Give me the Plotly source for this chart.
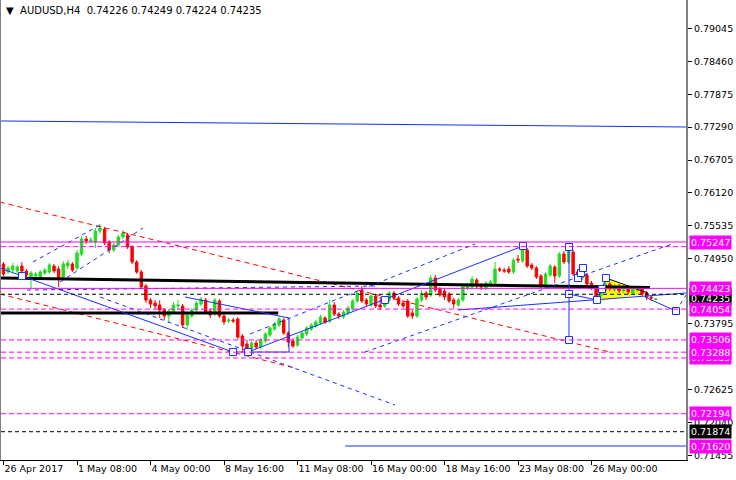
import plotly.graph_objects as go

# ---------------- data ----------------
symbol = "AUDUSD,H4"
last_ohlc = ["0.74226", "0.74249", "0.74224", "0.74235"]

bars = list(range(143))

open_pts = [74856, 74714, 74749, 74731, 74820, 74731, 74625, 74642, 74625, 74696,
            74714, 74820, 74767, 74625, 74820, 74856, 74785, 75034, 75300, 75265,
            75247, 75443, 75478, 75247, 75105, 75194, 75336, 75371, 75158, 74891,
            74714, 74465, 74216, 74162, 74127, 74038, 73931, 74002, 74109, 74109,
            73771, 73931, 74038, 74145, 74216, 74020, 73967, 74198, 73931, 73842,
            73860, 73878, 73576, 73433, 73344, 73451, 73380, 73487, 73593, 73700,
            73771, 73860, 73629, 73487, 73415, 73540, 73611, 73700, 73753, 73807,
            73896, 73842, 74127, 73967, 73913, 73985, 74056, 74198, 74393, 74216,
            74127, 74287, 74127, 74109, 74216, 74340, 74251, 74162, 74198, 73985,
            73931, 74216, 74340, 74305, 74607, 74411, 74376, 74322, 74216, 74127,
            74216, 74429, 74447, 74571, 74482, 74429, 74482, 74518, 74767, 74749,
            74767, 74714, 74945, 74909, 75105, 74838, 74785, 74642, 74465, 74660,
            74802, 74642, 75034, 74891, 75069, 74714, 74607, 74660, 74518, 74447,
            74287, 74376, 74500, 74393, 74465, 74376, 74447, 74340, 74393, 74411,
            74340, 74269, 74226]
high_pts = [74891, 74820, 74874, 74838, 74891, 74767, 74731, 74714, 74749, 74785,
            74874, 74856, 74820, 74909, 74927, 74891, 75105, 75354, 75354, 75336,
            75496, 75567, 75514, 75283, 75229, 75371, 75460, 75407, 75194, 74927,
            74749, 74500, 74251, 74216, 74216, 74073, 74056, 74180, 74216, 74145,
            73985, 74073, 74198, 74269, 74251, 74056, 74251, 74233, 73967, 73896,
            73896, 73913, 73611, 73504, 73487, 73504, 73540, 73647, 73753, 73825,
            73913, 73896, 73664, 73540, 73593, 73664, 73753, 73807, 73860, 73949,
            73931, 74216, 74180, 74002, 74038, 74109, 74233, 74393, 74465, 74251,
            74322, 74322, 74269, 74251, 74376, 74376, 74287, 74198, 74233, 74038,
            74269, 74393, 74376, 74660, 74660, 74447, 74411, 74358, 74251, 74251,
            74500, 74518, 74642, 74607, 74518, 74553, 74571, 74891, 74802, 74785,
            74820, 74962, 75016, 75158, 75140, 74874, 74820, 74678, 74714, 74856,
            74838, 75069, 75087, 75123, 75105, 74749, 74714, 74696, 74553, 74482,
            74429, 74536, 74536, 74500, 74500, 74482, 74482, 74447, 74465, 74447,
            74376, 74287, 74249]
low_pts = [74642, 74678, 74714, 74696, 74696, 74625, 74429, 74589, 74589, 74660,
           74678, 74696, 74447, 74589, 74767, 74714, 74749, 74998, 75211, 75229,
           75140, 75389, 75194, 75051, 75069, 75158, 75300, 75123, 74856, 74678,
           74411, 74162, 74073, 74056, 73896, 73860, 73807, 73967, 74038, 73718,
           73682, 73896, 74002, 74109, 73967, 73896, 73931, 73896, 73771, 73807,
           73807, 73522, 73291, 73291, 73309, 73344, 73344, 73451, 73558, 73664,
           73736, 73593, 73380, 73362, 73380, 73504, 73576, 73664, 73718, 73771,
           73789, 73807, 73931, 73878, 73878, 73949, 74020, 74162, 74162, 74091,
           74091, 74073, 74038, 74073, 74180, 74216, 74109, 74073, 73896, 73878,
           73896, 74180, 74216, 74269, 74358, 74269, 74216, 74162, 74073, 74091,
           74180, 74393, 74411, 74429, 74393, 74393, 74447, 74482, 74714, 74696,
           74678, 74678, 74874, 74874, 74785, 74749, 74589, 74429, 74429, 74625,
           74518, 74607, 74856, 74856, 74642, 74589, 74571, 74465, 74393, 74216,
           74251, 74340, 74376, 74358, 74340, 74340, 74322, 74305, 74358, 74287,
           74216, 74198, 74224]
close_pts = [74678, 74785, 74820, 74802, 74731, 74660, 74696, 74678, 74714, 74749,
             74838, 74731, 74589, 74856, 74874, 74749, 75051, 75300, 75265, 75283,
             75443, 75496, 75229, 75105, 75194, 75336, 75407, 75158, 74891, 74714,
             74447, 74216, 74145, 74109, 74038, 73931, 74020, 74127, 74127, 73771,
             73949, 74038, 74162, 74233, 74002, 73949, 74216, 73931, 73825, 73860,
             73842, 73558, 73398, 73362, 73451, 73380, 73504, 73611, 73718, 73789,
             73878, 73629, 73469, 73398, 73558, 73629, 73718, 73771, 73825, 73913,
             73825, 74127, 73967, 73931, 74002, 74073, 74198, 74340, 74198, 74145,
             74287, 74109, 74091, 74216, 74340, 74251, 74145, 74109, 73931, 73931,
             74233, 74340, 74269, 74607, 74393, 74305, 74269, 74198, 74145, 74216,
             74465, 74482, 74589, 74465, 74447, 74518, 74536, 74767, 74749, 74731,
             74714, 74927, 74927, 75123, 74820, 74785, 74625, 74482, 74678, 74820,
             74642, 75034, 74891, 75087, 74678, 74625, 74678, 74500, 74429, 74287,
             74393, 74500, 74411, 74465, 74376, 74447, 74358, 74411, 74429, 74322,
             74269, 74251, 74235]

open_ = [v / 1e5 for v in open_pts]
high_ = [v / 1e5 for v in high_pts]
low_ = [v / 1e5 for v in low_pts]
close_ = [v / 1e5 for v in close_pts]

tick_bars = [0, 16, 32, 48, 64, 80, 96, 112, 128]
tick_text = ["26 Apr 2017", "1 May 08:00", "4 May 00:00", "8 May 16:00", "11 May 08:00",
             "16 May 00:00", "18 May 16:00", "23 May 08:00", "26 May 00:00"]

price_ticks = [0.79045, 0.78460, 0.77875, 0.77290, 0.76705, 0.76120, 0.75535,
               0.74950, 0.73795, 0.72625, 0.72040, 0.71455]
price_tick_text = ["0.79045", "0.78460", "0.77875", "0.77290", "0.76705", "0.76120",
                   "0.75535", "0.74950", "0.73795", "0.72625", "0.72040", "0.71455"]

magenta_solid_levels = [0.75247, 0.74423]
magenta_dash_levels = [0.75165, 0.74054, 0.73506, 0.73288, 0.73185, 0.72194]
black_dash_levels = [0.74318, 0.71874]

# price labels on the axis (drawn in this order)
label_values = [0.75247, 0.73185, 0.73288, 0.74318, 0.74235, 0.74423, 0.74054,
                0.73506, 0.72194, 0.71874, 0.71620]
label_texts = ["0.75247", "0.73185", "0.73288", "0.74318", "0.74235", "0.74423", "0.74054",
               "0.73506", "0.72194", "0.71874", "0.71620"]
label_kinds = ["m", "m", "m", "k", "k", "m", "m", "m", "m", "k", "m"]

# analysis objects: (bar positions, prices)
blue_solid_paths = [
    ([-0.8, 148.6], [0.77399, 0.77292]),
    ([-0.8, 49.96], [0.74785, 0.73291]),
    ([39.51, 60.19, 62.15, 62.15, 49.96], [0.74269, 0.73931, 0.73896, 0.73291, 0.73291]),
    ([53.22, 113.08], [0.73291, 0.75176]),
    ([123.1, 123.1], [0.75158, 0.73504]),
    ([123.1, 129.19, 130.28, 131.15], [0.74322, 0.74216, 0.74411, 0.74607]),
    ([125.05, 125.7, 126.14], [0.74607, 0.74696, 0.74785]),
    ([98.93, 148.6], [0.74038, 0.74340]),
    ([139.63, 146.39], [0.74269, 0.74020]),
    ([74.4, 148.6], [0.71620, 0.71620]),
]
blue_dash_paths = [
    ([6.42, 21.01], [0.74891, 0.75549]),
    ([12.3, 30.37], [0.74536, 0.75496]),
    ([5.12, 80.87], [0.74393, 0.74465]),
    ([21.01, 85.22], [0.74269, 0.72349]),
    ([53.66, 102.64], [0.73611, 0.75211]),
    ([78.69, 145.52], [0.73291, 0.75211]),
    ([146.39, 148.6], [0.74020, 0.74305]),
]
red_dash_paths = [
    ([-0.8, 132.02], [0.75958, 0.73291]),
    ([-0.8, 63.45], [0.74322, 0.73007]),
]
black_thick_paths = [
    ([-0.8, 140.7], [0.74607, 0.74438]),
    ([-0.8, 59.8], [0.73985, 0.73985]),
]
triangle_bars = [131.15, 129.84, 140.29]
triangle_prices = [0.74607, 0.74198, 0.74340]

marker_bars = [4.03, 49.96, 53.22, 83.04, 113.08, 123.1, 123.1, 123.1, 125.05, 125.7,
               126.14, 129.19, 130.28, 131.15, 146.39]
marker_prices = [0.74642, 0.73291, 0.73291, 0.74216, 0.75176, 0.75158, 0.74322, 0.73504,
                 0.74607, 0.74696, 0.74785, 0.74216, 0.74411, 0.74607, 0.74020]

# ---------------- styles ----------------
FONT = "DejaVu Sans"
BLUE = "#1530FF"
MAGENTA = "#FF00FF"
GREEN = "#22DD22"
RED = "#FF0000"


def join_paths(paths):
    xs, ys = [], []
    for px, py in paths:
        xs += list(px) + [None]
        ys += list(py) + [None]
    return xs, ys


fig = go.Figure()

fig.add_trace(go.Candlestick(
    x=bars, open=open_, high=high_, low=low_, close=close_,
    increasing=dict(line=dict(color=GREEN, width=1), fillcolor=GREEN),
    decreasing=dict(line=dict(color=RED, width=1), fillcolor=RED),
    whiskerwidth=0, hoverinfo="skip", showlegend=False))

# triangle under candles
tri_path = "M {} {} L {} {} L {} {} Z".format(
    triangle_bars[0], triangle_prices[0], triangle_bars[1], triangle_prices[1],
    triangle_bars[2], triangle_prices[2])
shapes = [dict(type="path", path=tri_path, xref="x", yref="y", fillcolor="#FFFF00",
               line=dict(width=0), layer="below")]

for v in magenta_solid_levels:
    shapes.append(dict(type="line", xref="paper", x0=0, x1=1, yref="y", y0=v, y1=v,
                       line=dict(color=MAGENTA, width=1), layer="above"))
for v in magenta_dash_levels:
    shapes.append(dict(type="line", xref="paper", x0=0, x1=1, yref="y", y0=v, y1=v,
                       line=dict(color=MAGENTA, width=1, dash="5px,3px"), layer="above"))
for v in black_dash_levels:
    shapes.append(dict(type="line", xref="paper", x0=0, x1=1, yref="y", y0=v, y1=v,
                       line=dict(color="#000000", width=1, dash="4px,3px"), layer="above"))

x, y = join_paths(red_dash_paths)
fig.add_trace(go.Scatter(x=x, y=y, mode="lines", line=dict(color=RED, width=1, dash="5px,4px"),
                         hoverinfo="skip", showlegend=False))
x, y = join_paths(black_thick_paths)
fig.add_trace(go.Scatter(x=x, y=y, mode="lines", line=dict(color="#000000", width=3),
                         hoverinfo="skip", showlegend=False))
x, y = join_paths([([triangle_bars[0], triangle_bars[2]], [triangle_prices[0], triangle_prices[2]])])
fig.add_trace(go.Scatter(x=x, y=y, mode="lines", line=dict(color="#000000", width=1),
                         hoverinfo="skip", showlegend=False))
x, y = join_paths(blue_dash_paths)
fig.add_trace(go.Scatter(x=x, y=y, mode="lines", line=dict(color=BLUE, width=1, dash="4px,4px"),
                         hoverinfo="skip", showlegend=False))
x, y = join_paths(blue_solid_paths)
fig.add_trace(go.Scatter(x=x, y=y, mode="lines", line=dict(color=BLUE, width=1),
                         hoverinfo="skip", showlegend=False))
fig.add_trace(go.Scatter(x=marker_bars, y=marker_prices, mode="markers",
                         marker=dict(symbol="square", size=7, color="white",
                                     line=dict(color=BLUE, width=1)),
                         hoverinfo="skip", showlegend=False, cliponaxis=False))

annotations = []
for v, t, k in zip(label_values, label_texts, label_kinds):
    annotations.append(dict(
        xref="paper", x=1, xanchor="left", xshift=3, yref="y", y=v, yanchor="middle",
        text=t, showarrow=False, font=dict(family=FONT, size=9.5, color="white"),
        bgcolor=MAGENTA if k == "m" else "#000000", borderpad=1))

annotations.append(dict(
    xref="paper", x=0, xanchor="left", xshift=3, yref="paper", y=1, yanchor="top", yshift=-3,
    text="\u25BC\u00a0\u00a0" + symbol + "\u00a0\u00a0" + " ".join(last_ohlc),
    showarrow=False, font=dict(family=FONT, size=10, color="#000000")))

fig.update_layout(
    width=736, height=480,
    margin=dict(l=1, r=50, t=0, b=20, pad=0, autoexpand=False),
    paper_bgcolor="white", plot_bgcolor="white",
    showlegend=False, hovermode=False, boxgap=0.25,
    shapes=shapes, annotations=annotations,
    xaxis=dict(range=[-0.544, 148.57], showgrid=False, zeroline=False,
               rangeslider=dict(visible=False), automargin=False,
               showline=True, linecolor="#000000", linewidth=1,
               tickmode="array", tickvals=tick_bars, ticktext=tick_text,
               ticks="outside", ticklen=4, tickcolor="#000000", tickangle=0,
               ticklabelposition="outside right",
               tickfont=dict(family=FONT, size=9.5, color="#000000")),
    yaxis=dict(range=[0.71371, 0.79550], side="right", showgrid=False, zeroline=False,
               automargin=False,
               showline=True, linecolor="#808080", linewidth=2, mirror=True,
               tickmode="array", tickvals=price_ticks, ticktext=price_tick_text,
               ticks="outside", ticklen=4, tickcolor="#000000",
               tickfont=dict(family=FONT, size=9.5, color="#000000")),
)

fig.write_html("out.html", config={"displayModeBar": False},
               post_script="document.body.style.margin='0';document.body.style.padding='0';"
                           "document.body.style.overflow='hidden';")
